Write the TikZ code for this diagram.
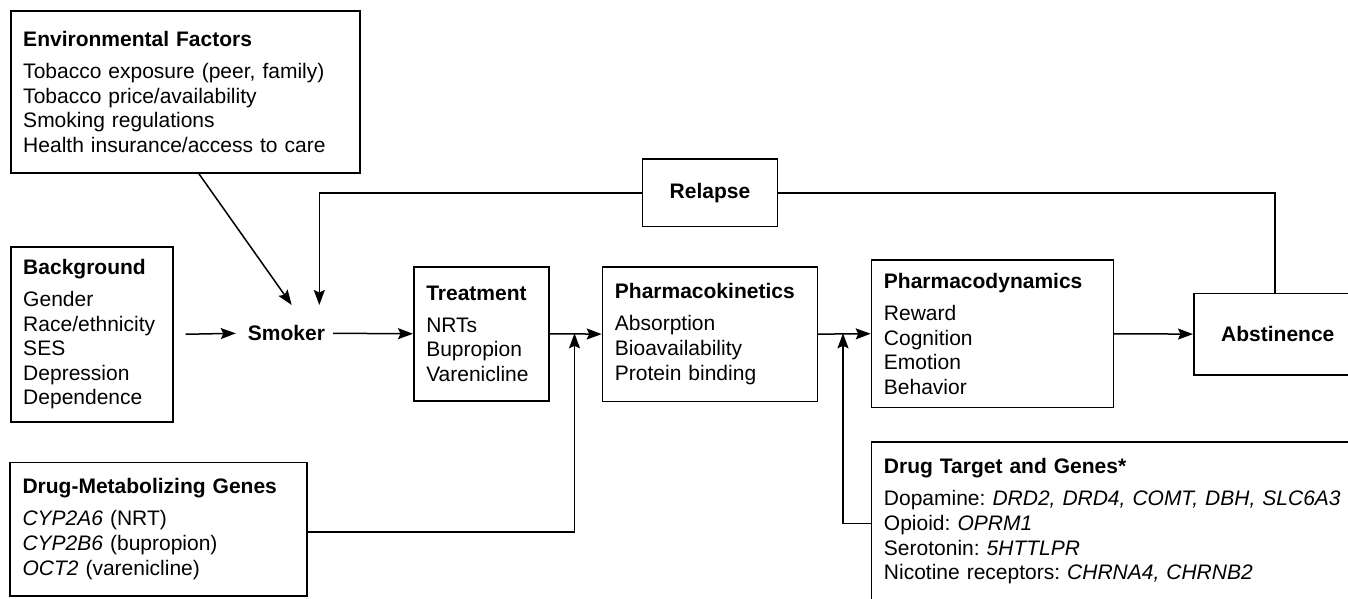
\documentclass[tikz,border=0pt]{standalone}
\usepackage{fontspec}
\setmainfont{Liberation Sans}
\usetikzlibrary{arrows.meta}
\frenchspacing
\begin{document}
\begin{tikzpicture}[x=1pt,y=-1pt,
  every node/.style={font=\fontsize{21}{24.6}\selectfont},
  box/.style={draw, line width=1.5pt, anchor=north west, align=left, inner xsep=12.5pt, inner ysep=0pt},
  cbox/.style={draw, line width=1.5pt, anchor=north west, align=center, inner sep=0pt},
  arr/.style={line width=1.5pt, -{Stealth[length=15pt,width=11pt,inset=2.5pt]}},
  ln/.style={line width=1.5pt}]
\useasboundingbox (0,0) rectangle (1348,598);
\clip (0,0) rectangle (1348,598);

\node[box, minimum width=349pt, minimum height=162pt, text width=324pt] (env) at (10,10)
  {\textbf{Environmental Factors}\\[7.5pt]
   Tobacco exposure (peer, family)\\
   Tobacco price/availability\\
   Smoking regulations\\
   Health insurance/access to care};

\node[box, minimum width=162pt, minimum height=175pt, text width=137pt] (bg) at (10,246)
  {\textbf{Background}\\[7.5pt]
   Gender\\ Race/ethnicity\\ SES\\ Depression\\ Dependence};

\node[inner sep=0pt] (smoker) at (286.5,333.3) {\textbf{Smoker}};

\node[box, minimum width=135pt, minimum height=134pt, text width=110pt] (treat) at (413,266)
  {\textbf{Treatment}\\[7.5pt]
   NRTs\\ Bupropion\\ Varenicline};

\node[box, minimum width=215pt, minimum height=134.7pt, text width=190pt] (pk) at (601.7,266)
  {\textbf{Pharmacokinetics}\\[7.5pt]
   Absorption\\ Bioavailability\\ Protein binding};

\node[box, minimum width=242pt, minimum height=147.4pt, text width=217pt] (pd) at (870.7,259.3)
  {\textbf{Pharmacodynamics}\\[7.5pt]
   Reward\\ Cognition\\ Emotion\\ Behavior};

\node[cbox, minimum width=135pt, minimum height=67.4pt] (relapse) at (641.7,158.3) {\textbf{Relapse}};

\node[cbox, minimum width=168pt, minimum height=81.3pt] (abst) at (1193,292.7) {\textbf{Abstinence}};

\node[box, minimum width=296.7pt, minimum height=133.3pt, text width=271.7pt] (dm) at (9.3,461.7)
  {\textbf{Drug-Metabolizing Genes}\\[7.5pt]
   \textit{CYP2A6} (NRT)\\
   \textit{CYP2B6} (bupropion)\\
   \textit{OCT2} (varenicline)};

\node[box, minimum width=490pt, minimum height=159pt, text width=465pt] (dt) at (870.7,441)
  {\textbf{Drug Target and Genes*}\\[7.5pt]
   Dopamine: \textit{DRD2, DRD4, COMT, DBH, SLC6A3}\\
   Opioid: \textit{OPRM1}\\
   Serotonin: \textit{5HTTLPR}\\
   Nicotine receptors: \textit{CHRNA4, CHRNB2}};

\coordinate (sk1) at (291.7,305);
\coordinate (sk2) at (319.3,305);
\coordinate (m1) at (574.5,333.3);
\coordinate (m2) at (843,333.3);

\draw[arr] ([xshift=13.5pt]env.south) -- (sk1);
\draw[arr] (relapse.west) -| (sk2);
\draw[ln] (relapse.east) -| ([xshift=-3pt]abst.north);
\draw[arr] ([xshift=12pt]bg.east) -- ([xshift=-12pt]smoker.west);
\draw[arr] ([xshift=8pt]smoker.east) -- (treat.west);
\draw[arr] (treat.east) -- (pk.west);
\draw[arr] (pk.east) -- (pd.west);
\draw[arr] (pd.east) -- (abst.west);
\draw[arr] ([yshift=-2.7pt]dm.east) -| (m1);
\draw[arr] ([yshift=-2.2pt]dt.west) -| (m2);
\end{tikzpicture}
\end{document}
